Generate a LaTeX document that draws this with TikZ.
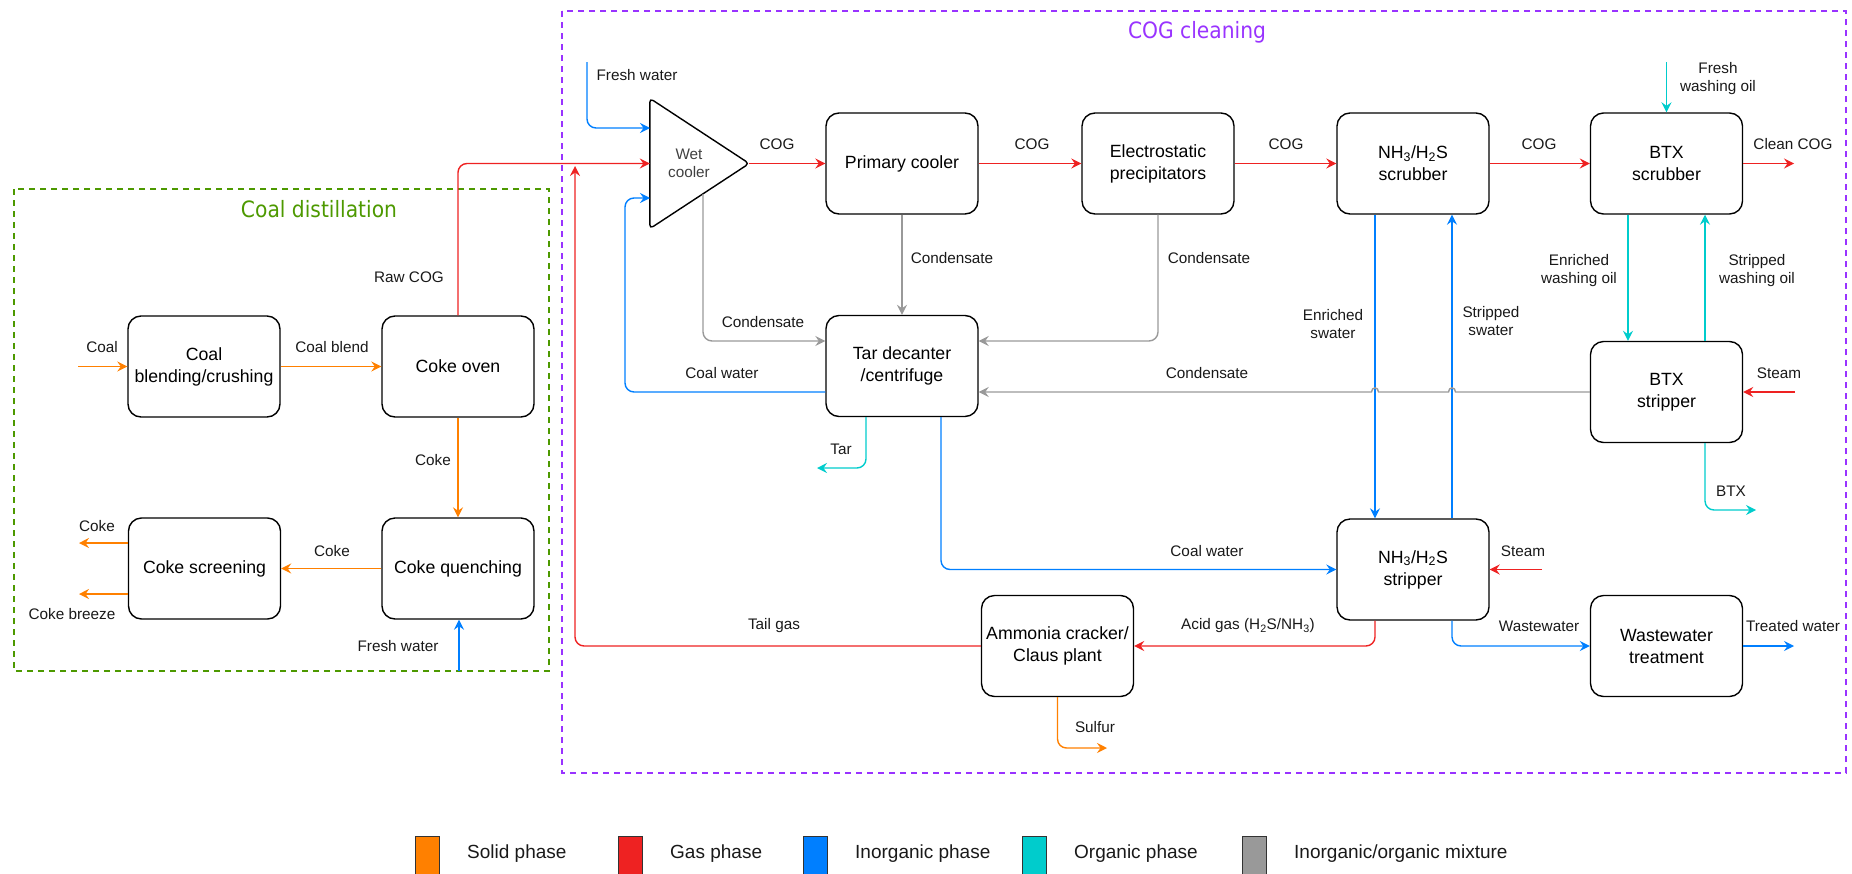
\documentclass[tikz,border=0pt]{standalone}
\usepackage{fontspec}
\usepackage{graphicx}
\setmainfont{Liberation Sans}
\newfontfamily\titlefont{DejaVu Sans}
\usetikzlibrary{arrows.meta,calc}
\definecolor{cSolid}{HTML}{FF8000}
\definecolor{cGas}{HTML}{EE2222}
\definecolor{cInorg}{HTML}{007FFF}
\definecolor{cOrg}{HTML}{00CCCC}
\definecolor{cMix}{HTML}{999999}
\definecolor{cGreen}{HTML}{4D9900}
\definecolor{cPurple}{HTML}{9933FF}
\newcommand\boxfont{\fontsize{17.7}{22}\selectfont}
\newcommand\lblfont{\fontsize{15.3}{18}\selectfont}
\newcommand\legfont{\fontsize{19}{22}\selectfont}
\newcommand\ttlfont{\titlefont\fontsize{22.5}{26}\selectfont}
\begin{document}
\begin{tikzpicture}[x=1pt,y=-1pt,
  box/.style={draw=black, line width=1.4pt, rounded corners=13pt, minimum width=152pt, minimum height=101pt, inner sep=1pt, align=center, font=\boxfont},
  lbl/.style={inner sep=0pt, align=center, font=\lblfont, text=black!90},
  flow/.style={line width=1.4pt, rounded corners=9pt, -{Stealth[length=10pt,width=10pt,inset=3.5pt]}},
  fsolid/.style={flow, draw=cSolid},
  fgas/.style={flow, draw=cGas},
  finorg/.style={flow, draw=cInorg},
  forg/.style={flow, draw=cOrg},
  fmix/.style={flow, draw=cMix},
  group/.style={line width=1.8pt, dash pattern=on 6pt off 5pt},
  legsq/.style={draw=black!80, line width=1pt, minimum width=24pt, minimum height=40pt, inner sep=0pt},
  legtxt/.style={inner sep=0pt, anchor=west, font=\legfont, text=black!90}
]
\useasboundingbox (0,0) rectangle (1852,873);

% group frames
\draw[group, draw=cGreen] (14,189) rectangle (549,671);
\draw[group, draw=cPurple] (562,11) rectangle (1846,773);
\node[text=cGreen, inner sep=0pt] (tdist) at (319,209) {\ttlfont\scalebox{0.9}[1]{Coal distillation}};
\node[text=cPurple, inner sep=0pt] (tclean) at (1197,32) {\ttlfont\scalebox{0.9}[1]{COG cleaning}};

% process boxes
\node[box] (blend) at (204,366.5) {Coal\\blending/crushing};
\node[box] (oven) at (458,366.5) {Coke oven};
\node[box] (screen) at (204.5,568.5) {Coke screening};
\node[box] (quench) at (458,568.5) {Coke quenching};
\node[box] (prim) at (902,163.5) {Primary cooler};
\node[box] (esp) at (1158,163.5) {Electrostatic\\precipitators};
\node[box] (nhscr) at (1413,163.5) {NH\textsubscript{3}/H\textsubscript{2}S\\scrubber};
\node[box] (btxscr) at (1666.5,163.5) {BTX\\scrubber};
\node[box] (tar) at (902,366) {Tar decanter\\/centrifuge};
\node[box] (btxstr) at (1666.5,392) {BTX\\stripper};
\node[box] (nhstr) at (1413,569.5) {NH\textsubscript{3}/H\textsubscript{2}S\\stripper};
\node[box] (claus) at (1057.5,646) {Ammonia cracker/\\Claus plant};
\node[box] (wwt) at (1666.5,646) {Wastewater\\treatment};

% wet cooler triangle
\node[minimum width=99pt, minimum height=130pt, inner sep=0pt] (wet) at (699.5,163.5) {};
\draw[line width=1.4pt, rounded corners=4pt] (wet.north west) -- (wet.east) -- (wet.south west) -- cycle;
\node[inner sep=0pt, align=center, font=\lblfont, text=black!75] (wettxt) at (689,163.5) {Wet\\cooler};

% free ends
\coordinate (cin) at (78,366.5);
\coordinate (cout1) at (79,543);
\coordinate (cout2) at (79,594);
\coordinate (fw1) at (459,671);
\coordinate (fw2) at (587,62);
\coordinate (wetin1) at (650,128);
\coordinate (cwbend) at (625,198);
\coordinate (wetin3) at (650,198);
\coordinate (wetout) at (703,194);
\coordinate (tg) at (575,166);
\coordinate (cleancog) at (1794,163.5);
\coordinate (fwo) at (1666.5,62);
\coordinate (steam1) at (1795,392);
\coordinate (steam2) at (1542,569.5);
\coordinate (tarout) at (817,468);
\coordinate (btxout) at (1756,510);
\coordinate (sulf) at (1107,748);
\coordinate (treated) at (1794,646);

% solid
\draw[fsolid] (cin) -- (cin -| blend.west);
\draw[fsolid] (blend.east) -- (oven.west);
\draw[fsolid] (oven.south) -- (quench.north);
\draw[fsolid] (quench.west) -- (screen.east);
\draw[fsolid] ([yshift=25.5pt]screen.west) -- (cout1);
\draw[fsolid] ([yshift=-25.5pt]screen.west) -- (cout2);
\draw[fsolid] (claus.south) |- (sulf);

% gas
\draw[fgas] (oven.north) |- (wet.west);
\draw[fgas] (wet.east) -- (prim.west);
\draw[fgas] (prim.east) -- (esp.west);
\draw[fgas] (esp.east) -- (nhscr.west);
\draw[fgas] (nhscr.east) -- (btxscr.west);
\draw[fgas] (btxscr.east) -- (cleancog);
\draw[fgas] (claus.west) -| (tg);
\draw[fgas] (steam1) -- (btxstr.east);
\draw[fgas] (steam2) -- (nhstr.east);
\draw[fgas] ([xshift=-38pt]nhstr.south) |- (claus.east);

% inorganic
\draw[finorg] (fw1) -- (fw1 |- quench.south);
\draw[finorg] (fw2) |- (wetin1);
\draw[finorg] ([yshift=-26pt]tar.west) -| (cwbend) -- (wetin3);
\draw[finorg] ([xshift=39pt]tar.south) |- (nhstr.west);
\draw[finorg] ([xshift=-38pt]nhscr.south) -- ([xshift=-38pt]nhstr.north);
\draw[finorg] ([xshift=39pt]nhstr.north) -- ([xshift=39pt]nhscr.south);
\draw[finorg] ([xshift=39pt]nhstr.south) |- (wwt.west);
\draw[finorg] (wwt.east) -- (treated);

% organic
\draw[forg] (fwo) -- (btxscr.north);
\draw[forg] ([xshift=-38.5pt]btxscr.south) -- ([xshift=-38.5pt]btxstr.north);
\draw[forg] ([xshift=38.5pt]btxstr.north) -- ([xshift=38.5pt]btxscr.south);
\draw[forg] ([xshift=-36pt]tar.south) |- (tarout);
\draw[forg] ([xshift=38.5pt]btxstr.south) |- (btxout);

% mixture
\draw[fmix] (prim.south) -- (tar.north);
\draw[fmix] (esp.south) |- ([yshift=25pt]tar.east);
\draw[fmix] (wetout) |- ([yshift=25pt]tar.west);
\draw[fmix, sharp corners] (btxstr.west) -- (1455.5,392) .. controls (1455.5,386.5) and (1448.5,386.5) .. (1448.5,392) -- (1378.5,392) .. controls (1378.5,386.5) and (1371.5,386.5) .. (1371.5,392) -- ([yshift=-26pt]tar.east);

% labels
\node[lbl] (lcoal) at (102,347) {Coal};
\node[lbl] (lblend) at (332,347) {Coal blend};
\node[lbl] (lraw) at (409,277) {Raw COG};
\node[lbl] (lcoke1) at (433,460) {Coke};
\node[lbl] (lcoke2) at (332,551) {Coke};
\node[lbl] (lcoke3) at (97,526) {Coke};
\node[lbl] (lbreeze) at (72,614) {Coke breeze};
\node[lbl] (lfw1) at (398,646) {Fresh water};
\node[lbl] (lfw2) at (637,75) {Fresh water};
\node[lbl] (lcog1) at (777,144) {COG};
\node[lbl] (lcog2) at (1032,144) {COG};
\node[lbl] (lcog3) at (1286,144) {COG};
\node[lbl] (lcog4) at (1539,144) {COG};
\node[lbl] (lclean) at (1793,144) {Clean COG};
\node[lbl] (lfwo) at (1718,79) {Fresh\\washing oil};
\node[lbl] (lcond1) at (952,258) {Condensate};
\node[lbl] (lcond2) at (1209,258) {Condensate};
\node[lbl] (lcond3) at (763,322) {Condensate};
\node[lbl] (lcw1) at (722,373) {Coal water};
\node[lbl] (lcond4) at (1207,373) {Condensate};
\node[lbl] (lensw) at (1333,324) {Enriched\\swater};
\node[lbl] (lstsw) at (1491,321) {Stripped\\swater};
\node[lbl] (lenwo) at (1579,271) {Enriched\\washing oil};
\node[lbl] (lstwo) at (1757,271) {Stripped\\washing oil};
\node[lbl] (lsteam1) at (1779,373) {Steam};
\node[lbl] (ltar) at (841,449) {Tar};
\node[lbl] (lbtx) at (1731,491) {BTX};
\node[lbl] (lcw2) at (1207,551) {Coal water};
\node[lbl] (lsteam2) at (1523,551) {Steam};
\node[lbl] (ltail) at (774,626) {Tail gas};
\node[lbl] (lacid) at (1248,626) {Acid gas (H\textsubscript{2}S/NH\textsubscript{3})};
\node[lbl] (lww) at (1539,626) {Wastewater};
\node[lbl] (ltreat) at (1793,626) {Treated water};
\node[lbl] (lsulf) at (1095,727) {Sulfur};

% legend
\node[legsq, fill=cSolid] (sqsolid) at (427,856) {};
\node[legsq, fill=cGas] (sqgas) at (630,856) {};
\node[legsq, fill=cInorg] (sqinorg) at (815,856) {};
\node[legsq, fill=cOrg] (sqorg) at (1034,856) {};
\node[legsq, fill=cMix] (sqmix) at (1254,856) {};
\node[legtxt] (tsolid) at (467,854) {Solid phase};
\node[legtxt] (tgas) at (670,854) {Gas phase};
\node[legtxt] (tinorg) at (855,854) {Inorganic phase};
\node[legtxt] (torg) at (1074,854) {Organic phase};
\node[legtxt] (tmix) at (1294,854) {Inorganic/organic mixture};
\end{tikzpicture}
\end{document}
